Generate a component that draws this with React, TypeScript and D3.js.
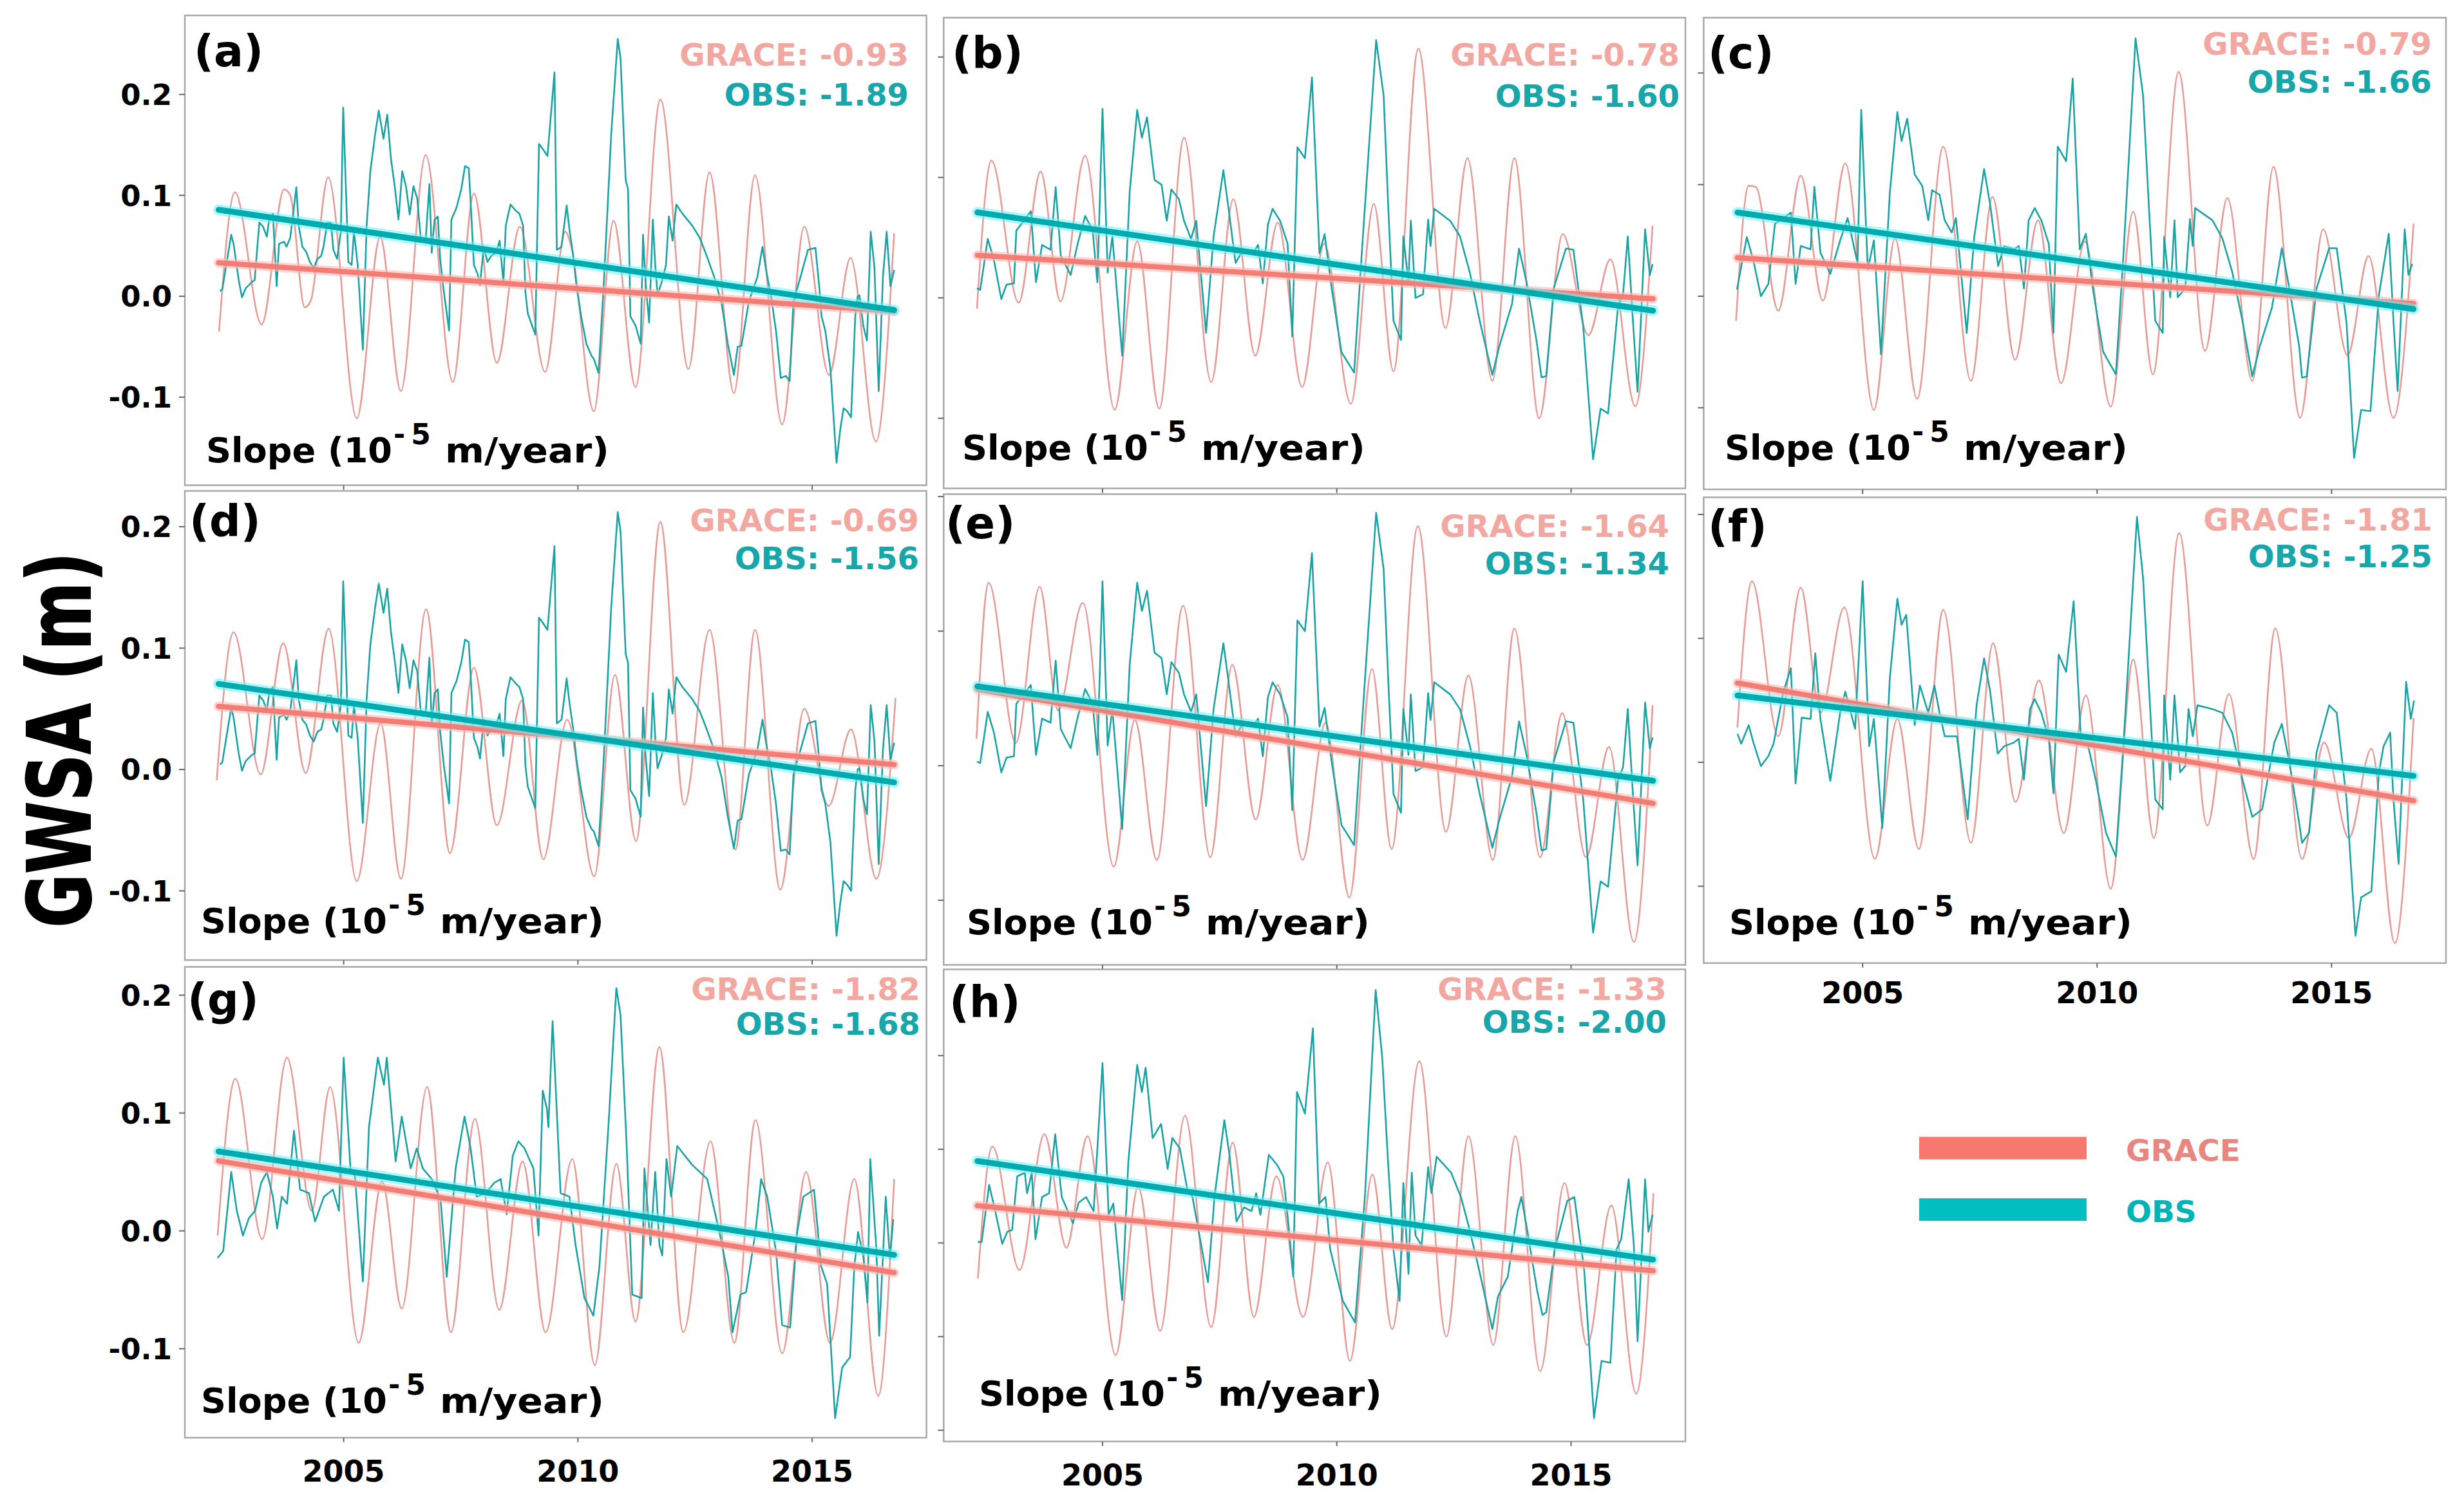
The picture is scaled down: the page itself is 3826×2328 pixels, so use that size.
import React from 'react';
import * as d3 from 'd3';

type P = [number, number];

// ---------------- DATA ----------------
const PANEL_NAMES = ['(a)', '(b)', '(c)', '(d)', '(e)', '(f)', '(g)', '(h)'];
const GRACE_SLOPES = ['-0.93', '-0.78', '-0.79', '-0.69', '-1.64', '-1.81', '-1.82', '-1.33'];
const OBS_SLOPES = ['-1.89', '-1.60', '-1.66', '-1.56', '-1.34', '-1.25', '-1.68', '-2.00'];
const X_TICKS = [2005, 2010, 2015];
const Y_TICKS_STD = [-0.1, 0, 0.1, 0.2];
const Y_TICKS_H = [-0.2, -0.1, 0, 0.1, 0.2];
const LEGEND_ITEMS = ['GRACE', 'OBS'];
const TREND_SPAN = [2002.33, 2016.75];

const TREND_GRACE: P[] = [
  [0.0333, -0.015], [0.0354, -0.0008], [0.0345, -0.0066], [0.052, 0.004],
  [0.0567, -0.028], [0.064, -0.031], [0.0594, -0.0355], [0.0398, -0.0297],
];
const TREND_OBS: P[] = [
  [0.0857, -0.0137], [0.071, -0.0106], [0.075, -0.0115], [0.0705, -0.0106],
  [0.059, -0.0112], [0.054, -0.011], [0.0674, -0.0204], [0.0874, -0.0178],
];

const GRACE_A: P[] = [[2002.34,-0.035],[2002.68,0.103],[2003.25,-0.028],[2003.73,0.106],[2003.86,0.1],[2004.17,-0.011],[2004.3,-0.004],[2004.67,0.118],[2005.28,-0.121],[2005.78,0.059],[2006.22,-0.094],[2006.75,0.14],[2007.33,-0.085],[2007.78,0.102],[2008.27,-0.066],[2008.76,0.069],[2009.3,-0.075],[2009.73,0.064],[2009.86,0.049],[2010.34,-0.114],[2010.76,0.075],[2011.23,-0.09],[2011.76,0.195],[2012.36,-0.072],[2012.81,0.123],[2013.33,-0.096],[2013.78,0.12],[2014.36,-0.127],[2014.83,0.069],[2015.36,-0.078],[2015.82,0.038],[2016.36,-0.144],[2016.75,0.0625]];
const GRACE_B: P[] = [[2002.32,-0.009],[2002.63,0.114],[2003.21,-0.004],[2003.68,0.105],[2004.1,-0.003],[2004.63,0.118],[2005.26,-0.093],[2005.74,0.047],[2006.21,-0.092],[2006.74,0.133],[2007.32,-0.07],[2007.79,0.082],[2008.26,-0.048],[2008.74,0.0625],[2009.26,-0.074],[2009.73,0.045],[2010.3,-0.088],[2010.79,0.078],[2011.21,-0.061],[2011.74,0.207],[2012.32,-0.025],[2012.79,0.116],[2013.32,-0.069],[2013.79,0.116],[2014.32,-0.1],[2014.82,0.053],[2015.37,-0.031],[2015.84,0.032],[2016.37,-0.09],[2016.74,0.06]];
const GRACE_C: P[] = [[2002.3,-0.022],[2002.57,0.099],[2002.72,0.098],[2003.2,-0.013],[2003.68,0.108],[2004.15,-0.004],[2004.63,0.119],[2005.24,-0.102],[2005.69,0.052],[2006.16,-0.092],[2006.72,0.134],[2007.31,-0.076],[2007.77,0.089],[2008.25,-0.057],[2008.74,0.068],[2009.23,-0.078],[2009.74,0.049],[2010.29,-0.099],[2010.77,0.076],[2011.19,-0.07],[2011.74,0.201],[2012.3,-0.049],[2012.78,0.088],[2013.31,-0.076],[2013.76,0.116],[2014.33,-0.109],[2014.82,0.06],[2015.34,-0.053],[2015.79,0.036],[2016.32,-0.109],[2016.75,0.065]];
const GRACE_D: P[] = [[2002.29,-0.009],[2002.65,0.113],[2003.23,-0.004],[2003.71,0.104],[2004.19,-0.003],[2004.68,0.116],[2005.28,-0.092],[2005.79,0.038],[2006.22,-0.09],[2006.76,0.132],[2007.27,-0.069],[2007.78,0.084],[2008.27,-0.046],[2008.81,0.057],[2009.26,-0.074],[2009.77,0.041],[2010.35,-0.088],[2010.79,0.078],[2011.24,-0.059],[2011.76,0.204],[2012.27,-0.029],[2012.81,0.115],[2013.36,-0.066],[2013.78,0.115],[2014.32,-0.099],[2014.83,0.05],[2015.35,-0.03],[2015.83,0.033],[2016.37,-0.09],[2016.78,0.059]];
const GRACE_E: P[] = [[2002.31,0.02],[2002.57,0.136],[2003.15,0.017],[2003.66,0.133],[2004.05,0.041],[2004.58,0.121],[2005.24,-0.075],[2005.69,0.034],[2006.16,-0.07],[2006.72,0.119],[2007.3,-0.068],[2007.77,0.075],[2008.27,-0.04],[2008.74,0.06],[2009.27,-0.07],[2009.76,0.032],[2010.27,-0.098],[2010.75,0.072],[2011.17,-0.062],[2011.73,0.178],[2012.33,-0.049],[2012.81,0.067],[2013.33,-0.07],[2013.79,0.102],[2014.34,-0.068],[2014.81,0.039],[2015.32,-0.068],[2015.81,0.014],[2016.34,-0.131],[2016.74,0.045]];
const GRACE_F: P[] = [[2002.33,0.028],[2002.64,0.146],[2003.2,0.021],[2003.68,0.141],[2004.1,0.04],[2004.61,0.125],[2005.26,-0.078],[2005.74,0.035],[2006.2,-0.07],[2006.72,0.123],[2007.31,-0.065],[2007.78,0.096],[2008.26,-0.032],[2008.76,0.066],[2009.29,-0.057],[2009.76,0.054],[2010.29,-0.102],[2010.77,0.083],[2011.21,-0.061],[2011.75,0.185],[2012.35,-0.051],[2012.81,0.055],[2013.34,-0.078],[2013.8,0.108],[2014.37,-0.078],[2014.84,0.016],[2015.37,-0.061],[2015.85,0.011],[2016.35,-0.146],[2016.75,0.036]];
const GRACE_G: P[] = [[2002.31,-0.004],[2002.69,0.129],[2003.26,-0.007],[2003.79,0.147],[2004.32,0.017],[2004.71,0.122],[2005.32,-0.095],[2005.82,0.042],[2006.24,-0.066],[2006.78,0.122],[2007.29,-0.086],[2007.8,0.095],[2008.32,-0.067],[2008.82,0.059],[2009.31,-0.086],[2009.88,0.061],[2010.36,-0.114],[2010.82,0.057],[2011.23,-0.077],[2011.74,0.156],[2012.25,-0.086],[2012.83,0.076],[2013.34,-0.095],[2013.79,0.094],[2014.36,-0.104],[2014.87,0.05],[2015.38,-0.095],[2015.9,0.044],[2016.41,-0.14],[2016.75,0.044]];
const GRACE_H: P[] = [[2002.34,-0.038],[2002.65,0.103],[2003.23,-0.029],[2003.76,0.116],[2004.23,-0.005],[2004.68,0.114],[2005.28,-0.12],[2005.76,0.06],[2006.23,-0.094],[2006.76,0.136],[2007.32,-0.09],[2007.78,0.107],[2008.23,-0.079],[2008.71,0.071],[2009.28,-0.079],[2009.81,0.086],[2010.28,-0.126],[2010.76,0.073],[2011.18,-0.092],[2011.76,0.194],[2012.34,-0.1],[2012.81,0.114],[2013.34,-0.109],[2013.81,0.114],[2014.34,-0.137],[2014.86,0.064],[2015.34,-0.109],[2015.86,0.04],[2016.39,-0.161],[2016.76,0.053]];

const OBS_A: P[] = [[2002.36,0.005],[2002.41,0.007],[2002.6,0.061],[2002.65,0.052],[2002.76,0.016],[2002.83,-0.001],[2002.91,0.008],[2003.04,0.014],[2003.1,0.016],[2003.2,0.073],[2003.28,0.069],[2003.36,0.059],[2003.41,0.076],[2003.49,0.082],[2003.57,0.01],[2003.62,0.052],[2003.73,0.054],[2003.78,0.049],[2003.86,0.058],[2003.99,0.108],[2004.04,0.07],[2004.12,0.049],[2004.2,0.044],[2004.28,0.034],[2004.36,0.028],[2004.44,0.037],[2004.52,0.04],[2004.57,0.049],[2004.65,0.073],[2004.73,0.073],[2004.78,0.046],[2004.86,0.037],[2004.94,0.064],[2004.99,0.187],[2005.1,0.034],[2005.17,0.031],[2005.22,0.064],[2005.3,0.031],[2005.41,-0.053],[2005.49,0.07],[2005.57,0.124],[2005.67,0.16],[2005.75,0.184],[2005.85,0.156],[2005.93,0.18],[2006.01,0.136],[2006.09,0.109],[2006.17,0.076],[2006.25,0.124],[2006.33,0.109],[2006.41,0.081],[2006.49,0.109],[2006.57,0.097],[2006.65,0.055],[2006.75,0.055],[2006.83,0.111],[2006.88,0.043],[2006.94,0.076],[2007.01,0.079],[2007.06,0.037],[2007.14,0.004],[2007.25,-0.034],[2007.3,0.076],[2007.41,0.088],[2007.51,0.106],[2007.59,0.129],[2007.67,0.127],[2007.72,0.085],[2007.78,0.031],[2007.86,0.022],[2007.91,0.011],[2007.99,0.049],[2008.07,0.034],[2008.15,0.04],[2008.25,0.043],[2008.33,0.055],[2008.41,0.013],[2008.46,0.07],[2008.56,0.091],[2008.67,0.085],[2008.75,0.082],[2008.83,0.07],[2008.88,0.004],[2008.93,-0.017],[2009.09,-0.038],[2009.17,0.151],[2009.25,0.146],[2009.35,0.139],[2009.5,0.222],[2009.55,0.046],[2009.65,0.049],[2009.76,0.09],[2009.82,0.066],[2009.9,0.04],[2009.97,0.01],[2010.07,-0.02],[2010.18,-0.047],[2010.29,-0.059],[2010.34,-0.062],[2010.44,-0.076],[2010.55,0.01],[2010.71,0.16],[2010.85,0.255],[2010.91,0.236],[2011.02,0.115],[2011.07,0.106],[2011.12,-0.02],[2011.23,-0.029],[2011.34,-0.047],[2011.39,0.061],[2011.44,0.016],[2011.52,-0.026],[2011.6,0.076],[2011.65,0.031],[2011.7,0.001],[2011.8,0.016],[2011.88,0.031],[2011.94,0.079],[2012.02,0.055],[2012.1,0.091],[2012.23,0.082],[2012.44,0.07],[2012.6,0.058],[2012.75,0.04],[2012.91,0.019],[2013.07,-0.008],[2013.2,-0.047],[2013.33,-0.078],[2013.41,-0.05],[2013.49,-0.049],[2013.65,-0.005],[2013.83,0.019],[2013.94,0.049],[2014.02,0.025],[2014.12,0.001],[2014.23,-0.035],[2014.33,-0.081],[2014.44,-0.079],[2014.52,-0.084],[2014.6,-0.005],[2014.75,0.019],[2014.91,0.046],[2015.07,0.048],[2015.15,0.01],[2015.2,-0.02],[2015.28,-0.034],[2015.39,-0.072],[2015.52,-0.165],[2015.6,-0.132],[2015.67,-0.111],[2015.75,-0.114],[2015.83,-0.12],[2015.92,-0.02],[2015.97,0.0],[2016.01,0.001],[2016.09,-0.029],[2016.17,-0.044],[2016.25,0.064],[2016.33,0.028],[2016.42,-0.094],[2016.51,0.019],[2016.59,0.064],[2016.67,0.01],[2016.75,0.026]];
const OBS_B: P[] = [[2002.32,0.008],[2002.39,0.0066],[2002.55,0.049],[2002.68,0.032],[2002.84,-0.001],[2002.95,0.011],[2003.11,0.012],[2003.16,0.056],[2003.32,0.064],[2003.47,0.072],[2003.58,0.013],[2003.71,0.044],[2003.89,0.04],[2004.0,0.092],[2004.11,0.035],[2004.32,0.019],[2004.47,0.045],[2004.63,0.068],[2004.79,0.056],[2004.89,0.013],[2005.0,0.157],[2005.11,0.021],[2005.21,0.051],[2005.42,-0.048],[2005.58,0.088],[2005.74,0.156],[2005.84,0.133],[2005.95,0.15],[2006.11,0.098],[2006.26,0.094],[2006.37,0.064],[2006.47,0.09],[2006.63,0.082],[2006.74,0.064],[2006.89,0.049],[2007.0,0.064],[2007.21,-0.029],[2007.37,0.051],[2007.58,0.106],[2007.68,0.077],[2007.84,0.029],[2008.0,0.04],[2008.21,0.037],[2008.32,0.044],[2008.42,0.012],[2008.53,0.061],[2008.63,0.074],[2008.79,0.064],[2008.95,0.045],[2009.05,-0.032],[2009.16,0.125],[2009.32,0.116],[2009.47,0.183],[2009.63,0.037],[2009.74,0.053],[2009.89,0.008],[2010.1,-0.045],[2010.37,-0.062],[2010.53,0.035],[2010.84,0.214],[2011.0,0.168],[2011.1,0.074],[2011.21,-0.019],[2011.37,-0.035],[2011.42,0.051],[2011.53,0.013],[2011.58,0.064],[2011.68,0.0],[2011.84,0.003],[2011.95,0.065],[2012.0,0.043],[2012.08,0.074],[2012.42,0.064],[2012.63,0.051],[2012.84,0.021],[2013.05,-0.019],[2013.32,-0.064],[2013.47,-0.04],[2013.74,-0.005],[2013.89,0.041],[2014.05,0.013],[2014.26,-0.035],[2014.37,-0.066],[2014.47,-0.065],[2014.63,0.008],[2014.89,0.041],[2015.05,0.04],[2015.26,-0.024],[2015.47,-0.134],[2015.63,-0.092],[2015.79,-0.096],[2016.0,-0.008],[2016.11,0.003],[2016.21,0.051],[2016.32,-0.019],[2016.42,-0.078],[2016.58,0.057],[2016.68,0.019],[2016.74,0.028]];
const OBS_C: P[] = [[2002.32,0.006],[2002.53,0.053],[2002.67,0.032],[2002.83,0.0],[2002.99,0.011],[2003.13,0.065],[2003.31,0.07],[2003.47,0.075],[2003.57,0.011],[2003.68,0.045],[2003.89,0.042],[2003.97,0.098],[2004.1,0.039],[2004.31,0.02],[2004.52,0.05],[2004.68,0.07],[2004.89,0.03],[2004.97,0.167],[2005.11,0.024],[2005.24,0.05],[2005.39,-0.052],[2005.58,0.093],[2005.74,0.165],[2005.83,0.139],[2005.95,0.159],[2006.11,0.109],[2006.27,0.099],[2006.4,0.068],[2006.48,0.095],[2006.64,0.091],[2006.75,0.068],[2006.9,0.057],[2006.99,0.07],[2007.22,-0.033],[2007.38,0.053],[2007.59,0.114],[2007.72,0.082],[2007.89,0.027],[2008.02,0.045],[2008.23,0.042],[2008.33,0.045],[2008.44,0.007],[2008.54,0.068],[2008.67,0.079],[2008.81,0.068],[2008.97,0.047],[2009.07,-0.033],[2009.16,0.134],[2009.34,0.121],[2009.48,0.195],[2009.63,0.042],[2009.76,0.056],[2009.92,0.004],[2010.13,-0.05],[2010.4,-0.07],[2010.56,0.036],[2010.82,0.231],[2010.98,0.18],[2011.11,0.076],[2011.24,-0.022],[2011.4,-0.033],[2011.43,0.053],[2011.56,-0.001],[2011.65,0.068],[2011.72,-0.001],[2011.88,0.007],[2011.98,0.069],[2012.04,0.045],[2012.09,0.079],[2012.46,0.068],[2012.67,0.052],[2012.88,0.022],[2013.1,-0.022],[2013.31,-0.072],[2013.47,-0.045],[2013.73,-0.01],[2013.94,0.043],[2014.1,0.007],[2014.31,-0.045],[2014.37,-0.073],[2014.47,-0.072],[2014.68,0.007],[2014.95,0.043],[2015.11,0.043],[2015.32,-0.024],[2015.48,-0.145],[2015.63,-0.102],[2015.83,-0.103],[2016.01,0.001],[2016.22,0.056],[2016.32,-0.022],[2016.41,-0.085],[2016.56,0.06],[2016.64,0.019],[2016.72,0.029]];
const OBS_D: P[] = [[2002.36,0.004],[2002.41,0.006],[2002.6,0.051],[2002.65,0.043],[2002.76,0.013],[2002.83,-0.001],[2002.91,0.007],[2003.04,0.012],[2003.1,0.013],[2003.2,0.061],[2003.28,0.057],[2003.36,0.049],[2003.41,0.063],[2003.49,0.068],[2003.57,0.008],[2003.62,0.043],[2003.73,0.045],[2003.78,0.041],[2003.86,0.048],[2003.99,0.09],[2004.04,0.058],[2004.12,0.041],[2004.2,0.037],[2004.28,0.028],[2004.36,0.023],[2004.44,0.031],[2004.52,0.033],[2004.57,0.041],[2004.65,0.061],[2004.73,0.061],[2004.78,0.038],[2004.86,0.031],[2004.94,0.053],[2004.99,0.155],[2005.1,0.028],[2005.17,0.026],[2005.22,0.053],[2005.3,0.026],[2005.41,-0.044],[2005.49,0.058],[2005.57,0.103],[2005.67,0.133],[2005.75,0.153],[2005.85,0.129],[2005.93,0.149],[2006.01,0.113],[2006.09,0.09],[2006.17,0.063],[2006.25,0.103],[2006.33,0.09],[2006.41,0.067],[2006.49,0.09],[2006.57,0.081],[2006.65,0.046],[2006.75,0.046],[2006.83,0.092],[2006.88,0.036],[2006.94,0.063],[2007.01,0.066],[2007.06,0.031],[2007.14,0.003],[2007.25,-0.028],[2007.3,0.063],[2007.41,0.073],[2007.51,0.088],[2007.59,0.107],[2007.67,0.105],[2007.72,0.071],[2007.78,0.026],[2007.86,0.018],[2007.91,0.009],[2007.99,0.041],[2008.07,0.028],[2008.15,0.033],[2008.25,0.036],[2008.33,0.046],[2008.41,0.011],[2008.46,0.058],[2008.56,0.076],[2008.67,0.071],[2008.75,0.068],[2008.83,0.058],[2008.88,0.003],[2008.93,-0.014],[2009.09,-0.032],[2009.17,0.125],[2009.25,0.121],[2009.35,0.115],[2009.5,0.184],[2009.55,0.038],[2009.65,0.041],[2009.76,0.075],[2009.82,0.055],[2009.9,0.033],[2009.97,0.008],[2010.07,-0.017],[2010.18,-0.039],[2010.29,-0.049],[2010.34,-0.051],[2010.44,-0.063],[2010.55,0.008],[2010.71,0.133],[2010.85,0.212],[2010.91,0.196],[2011.02,0.095],[2011.07,0.088],[2011.12,-0.017],[2011.23,-0.024],[2011.34,-0.039],[2011.39,0.051],[2011.44,0.013],[2011.52,-0.022],[2011.6,0.063],[2011.65,0.026],[2011.7,0.001],[2011.8,0.013],[2011.88,0.026],[2011.94,0.066],[2012.02,0.046],[2012.1,0.076],[2012.23,0.068],[2012.44,0.058],[2012.6,0.048],[2012.75,0.033],[2012.91,0.016],[2013.07,-0.007],[2013.2,-0.039],[2013.33,-0.065],[2013.41,-0.042],[2013.49,-0.041],[2013.65,-0.004],[2013.83,0.016],[2013.94,0.041],[2014.02,0.021],[2014.12,0.001],[2014.23,-0.029],[2014.33,-0.067],[2014.44,-0.066],[2014.52,-0.07],[2014.6,-0.004],[2014.75,0.016],[2014.91,0.038],[2015.07,0.04],[2015.15,0.008],[2015.2,-0.017],[2015.28,-0.028],[2015.39,-0.06],[2015.52,-0.137],[2015.6,-0.11],[2015.67,-0.092],[2015.75,-0.095],[2015.83,-0.1],[2015.92,-0.017],[2015.97,0.0],[2016.01,0.001],[2016.09,-0.024],[2016.17,-0.037],[2016.25,0.053],[2016.33,0.023],[2016.42,-0.078],[2016.51,0.016],[2016.59,0.053],[2016.67,0.008],[2016.75,0.022]];
const OBS_E: P[] = [[2002.32,0.003],[2002.39,0.002],[2002.55,0.04],[2002.68,0.025],[2002.84,-0.005],[2002.95,0.006],[2003.11,0.007],[2003.16,0.046],[2003.32,0.053],[2003.47,0.06],[2003.58,0.008],[2003.71,0.035],[2003.89,0.032],[2004.0,0.078],[2004.11,0.027],[2004.32,0.013],[2004.47,0.036],[2004.63,0.057],[2004.79,0.046],[2004.89,0.008],[2005.0,0.137],[2005.11,0.015],[2005.21,0.042],[2005.42,-0.047],[2005.58,0.075],[2005.74,0.136],[2005.84,0.115],[2005.95,0.13],[2006.11,0.084],[2006.26,0.08],[2006.37,0.053],[2006.47,0.077],[2006.63,0.069],[2006.74,0.053],[2006.89,0.04],[2007.0,0.053],[2007.21,-0.03],[2007.37,0.042],[2007.58,0.091],[2007.68,0.065],[2007.84,0.022],[2008.0,0.032],[2008.21,0.029],[2008.32,0.035],[2008.42,0.007],[2008.53,0.051],[2008.63,0.062],[2008.79,0.053],[2008.95,0.036],[2009.05,-0.033],[2009.16,0.108],[2009.32,0.1],[2009.47,0.158],[2009.63,0.029],[2009.74,0.043],[2009.89,0.003],[2010.1,-0.044],[2010.37,-0.059],[2010.53,0.027],[2010.84,0.188],[2011.0,0.146],[2011.1,0.062],[2011.21,-0.021],[2011.37,-0.035],[2011.42,0.042],[2011.53,0.008],[2011.58,0.053],[2011.68,-0.004],[2011.84,-0.001],[2011.95,0.054],[2012.0,0.034],[2012.08,0.062],[2012.42,0.053],[2012.63,0.042],[2012.84,0.015],[2013.05,-0.021],[2013.32,-0.061],[2013.47,-0.04],[2013.74,-0.008],[2013.89,0.033],[2014.05,0.008],[2014.26,-0.035],[2014.37,-0.063],[2014.47,-0.062],[2014.63,0.003],[2014.89,0.033],[2015.05,0.032],[2015.26,-0.025],[2015.47,-0.124],[2015.63,-0.086],[2015.79,-0.09],[2016.0,-0.011],[2016.11,-0.001],[2016.21,0.042],[2016.32,-0.021],[2016.42,-0.074],[2016.58,0.047],[2016.68,0.013],[2016.74,0.021]];
const OBS_F: P[] = [[2002.33,0.023],[2002.41,0.015],[2002.57,0.03],[2002.67,0.016],[2002.83,-0.003],[2002.99,0.005],[2003.1,0.015],[2003.31,0.057],[2003.47,0.076],[2003.57,-0.017],[2003.7,0.036],[2003.89,0.035],[2003.99,0.088],[2004.1,0.035],[2004.31,-0.015],[2004.52,0.04],[2004.63,0.057],[2004.84,0.027],[2005.0,0.146],[2005.14,0.013],[2005.24,0.035],[2005.42,-0.053],[2005.58,0.068],[2005.74,0.132],[2005.83,0.111],[2005.93,0.119],[2006.11,0.03],[2006.22,0.062],[2006.4,0.04],[2006.53,0.062],[2006.64,0.04],[2006.75,0.021],[2007.01,0.021],[2007.24,-0.046],[2007.43,0.046],[2007.59,0.084],[2007.72,0.057],[2007.88,0.007],[2008.02,0.013],[2008.23,0.016],[2008.33,0.019],[2008.44,-0.014],[2008.57,0.043],[2008.67,0.051],[2008.81,0.04],[2008.97,0.019],[2009.07,-0.025],[2009.18,0.087],[2009.34,0.073],[2009.5,0.13],[2009.66,0.016],[2009.81,0.013],[2009.97,-0.014],[2010.19,-0.057],[2010.4,-0.076],[2010.56,0.013],[2010.85,0.198],[2010.98,0.149],[2011.12,0.051],[2011.24,-0.03],[2011.4,-0.038],[2011.43,0.054],[2011.56,-0.014],[2011.65,0.054],[2011.77,-0.008],[2011.88,-0.003],[2011.95,0.043],[2012.04,0.021],[2012.14,0.046],[2012.46,0.043],[2012.67,0.04],[2012.88,0.024],[2013.1,-0.014],[2013.31,-0.044],[2013.52,-0.038],[2013.78,0.016],[2013.94,0.031],[2014.1,0.0],[2014.31,-0.049],[2014.37,-0.065],[2014.52,-0.057],[2014.68,0.008],[2014.95,0.046],[2015.11,0.04],[2015.32,-0.03],[2015.51,-0.14],[2015.63,-0.109],[2015.85,-0.104],[2016.01,-0.008],[2016.11,0.013],[2016.25,0.024],[2016.32,-0.03],[2016.43,-0.082],[2016.59,0.065],[2016.69,0.035],[2016.76,0.05]];
const OBS_G: P[] = [[2002.31,-0.023],[2002.43,-0.017],[2002.6,0.05],[2002.72,0.017],[2002.85,-0.004],[2002.98,0.011],[2003.11,0.017],[2003.24,0.041],[2003.36,0.05],[2003.49,0.029],[2003.58,0.002],[2003.68,0.029],[2003.79,0.023],[2003.94,0.085],[2004.07,0.035],[2004.26,0.032],[2004.39,0.008],[2004.58,0.029],[2004.77,0.035],[2004.9,0.017],[2005.0,0.147],[2005.15,0.05],[2005.24,0.047],[2005.41,-0.043],[2005.54,0.088],[2005.73,0.147],[2005.86,0.124],[2005.92,0.147],[2006.11,0.059],[2006.24,0.097],[2006.43,0.053],[2006.56,0.07],[2006.69,0.053],[2006.88,0.044],[2007.07,0.026],[2007.2,-0.039],[2007.39,0.053],[2007.58,0.097],[2007.71,0.07],[2007.84,0.029],[2008.03,0.032],[2008.22,0.041],[2008.35,0.044],[2008.48,0.014],[2008.61,0.064],[2008.73,0.076],[2008.86,0.07],[2009.05,0.053],[2009.16,-0.004],[2009.25,0.119],[2009.34,0.103],[2009.37,0.088],[2009.46,0.178],[2009.63,0.032],[2009.82,0.029],[2009.95,-0.012],[2010.14,-0.057],[2010.33,-0.072],[2010.46,-0.03],[2010.65,0.088],[2010.82,0.206],[2010.91,0.183],[2011.04,0.073],[2011.16,-0.054],[2011.36,-0.057],[2011.42,0.053],[2011.55,-0.012],[2011.65,0.05],[2011.74,-0.012],[2011.8,-0.021],[2011.89,0.061],[2011.99,0.029],[2012.12,0.072],[2012.44,0.056],[2012.76,0.044],[2013.02,-0.001],[2013.21,-0.039],[2013.3,-0.086],[2013.47,-0.054],[2013.59,-0.052],[2013.79,-0.001],[2013.91,0.044],[2014.04,0.029],[2014.23,-0.018],[2014.36,-0.08],[2014.53,-0.082],[2014.68,-0.001],[2014.81,0.029],[2015.04,0.035],[2015.19,-0.03],[2015.32,-0.045],[2015.49,-0.159],[2015.64,-0.116],[2015.81,-0.107],[2015.9,-0.03],[2015.98,-0.001],[2016.09,-0.021],[2016.18,-0.061],[2016.24,0.061],[2016.37,-0.015],[2016.43,-0.089],[2016.57,0.029],[2016.66,-0.024],[2016.73,0.01]];
const OBS_H: P[] = [[2002.34,0.001],[2002.42,0.001],[2002.58,0.062],[2002.71,0.034],[2002.86,-0.001],[2002.97,0.012],[2003.07,0.014],[2003.18,0.071],[2003.34,0.075],[2003.39,0.053],[2003.49,0.075],[2003.57,0.004],[2003.71,0.049],[2003.86,0.053],[2003.99,0.116],[2004.13,0.049],[2004.37,0.021],[2004.49,0.043],[2004.65,0.049],[2004.81,0.034],[2005.0,0.192],[2005.13,0.03],[2005.23,0.042],[2005.42,-0.061],[2005.55,0.086],[2005.74,0.19],[2005.84,0.161],[2005.92,0.187],[2006.07,0.112],[2006.25,0.127],[2006.39,0.079],[2006.49,0.112],[2006.65,0.101],[2006.81,0.057],[2006.92,0.049],[2007.25,-0.042],[2007.39,0.049],[2007.6,0.131],[2007.71,0.094],[2007.86,0.023],[2008.02,0.038],[2008.18,0.034],[2008.28,0.053],[2008.37,0.03],[2008.55,0.094],[2008.73,0.083],[2008.86,0.071],[2008.97,0.019],[2009.07,-0.036],[2009.15,0.161],[2009.32,0.138],[2009.49,0.229],[2009.62,0.042],[2009.76,0.049],[2009.86,-0.007],[2010.13,-0.062],[2010.39,-0.085],[2010.6,0.049],[2010.83,0.27],[2010.97,0.198],[2011.09,0.09],[2011.21,-0.007],[2011.34,-0.062],[2011.42,0.064],[2011.53,-0.033],[2011.6,0.075],[2011.68,0.008],[2011.81,-0.003],[2011.95,0.081],[2012.02,0.053],[2012.13,0.092],[2012.44,0.075],[2012.65,0.049],[2012.81,0.019],[2013.02,-0.025],[2013.32,-0.092],[2013.44,-0.057],[2013.65,-0.036],[2013.86,0.034],[2013.94,0.049],[2014.07,0.012],[2014.28,-0.052],[2014.39,-0.077],[2014.47,-0.074],[2014.65,-0.007],[2014.92,0.045],[2015.07,0.049],[2015.28,-0.029],[2015.49,-0.187],[2015.65,-0.126],[2015.84,-0.128],[2015.97,-0.007],[2016.07,0.004],[2016.23,0.068],[2016.34,-0.003],[2016.42,-0.105],[2016.58,0.068],[2016.65,0.012],[2016.74,0.03]];

const GRACE_ALL = [GRACE_A, GRACE_B, GRACE_C, GRACE_D, GRACE_E, GRACE_F, GRACE_G, GRACE_H];
const OBS_ALL = [OBS_A, OBS_B, OBS_C, OBS_D, OBS_E, OBS_F, OBS_G, OBS_H];

// ---------------- LAYOUT ----------------
const W = 3826;
const H = 2328;
const X_DOMAIN = [2001.61, 2017.44];
const COLS = [[287, 1438.6], [1465.3, 2617], [2645.4, 3798]];
const PANELS = [
  { col: 0, y0: 24, y1: 753.6, yMin: -0.1873, yMax: 0.2783, yl: true, xl: false, nx: 301, ny: 103, sx: 1411, sy1: 102, sy2: 164, px: 320, py: 718 },
  { col: 1, y0: 27.4, y1: 758.5, yMin: -0.1582, yMax: 0.2327, yl: false, xl: false, nx: 1478, ny: 106, sx: 2608, sy1: 102, sy2: 166, px: 1494, py: 714 },
  { col: 2, y0: 27.4, y1: 760, yMin: -0.1731, yMax: 0.2496, yl: false, xl: false, nx: 2652, ny: 106, sx: 3776, sy1: 85, sy2: 144, px: 2678, py: 714 },
  { col: 0, y0: 762.4, y1: 1491, yMin: -0.157, yMax: 0.2295, yl: true, xl: false, nx: 294, ny: 833, sx: 1427, sy1: 825, sy2: 884, px: 312, py: 1449 },
  { col: 1, y0: 767.4, y1: 1498.5, yMin: -0.148, yMax: 0.2018, yl: false, xl: false, nx: 1468, ny: 836, sx: 2592, sy1: 834, sy2: 892, px: 1501, py: 1451 },
  { col: 2, y0: 772.4, y1: 1495.7, yMin: -0.162, yMax: 0.2138, yl: false, xl: true, nx: 2652, ny: 841, sx: 3777, sy1: 824, sy2: 881, px: 2685, py: 1451 },
  { col: 0, y0: 1501.6, y1: 2232.8, yMin: -0.1755, yMax: 0.224, yl: true, xl: true, nx: 291, ny: 1576, sx: 1429, sy1: 1553, sy2: 1607, px: 312, py: 2194 },
  { col: 1, y0: 1505.5, y1: 2238.7, yMin: -0.212, yMax: 0.292, yl: false, xl: true, nx: 1474, ny: 1580, sx: 2588, sy1: 1553, sy2: 1604, px: 1520, py: 2183 },
];

const FONT = '"DejaVu Sans", Verdana, sans-serif';
const C_GRACE_LINE = '#E69C97';
const C_OBS_LINE = '#1AA3A4';
const C_GRACE_TREND = '#F37D75';
const C_GRACE_HALO = '#FFB9B3';
const C_OBS_TREND = '#00ABAF';
const C_OBS_HALO = '#6CF3F6';
const C_GRACE_TEXT = '#F2A7A1';
const C_OBS_TEXT = '#17A6A9';

const fmtTick = (t: number) => d3.format('.1f')(t).replace('\u2212', '-');

function Panel({ i }: { i: number }) {
  const p = PANELS[i];
  const [x0, x1] = COLS[p.col];
  const x = d3.scaleLinear().domain(X_DOMAIN).range([x0, x1]);
  const y = d3.scaleLinear().domain([p.yMin, p.yMax]).range([p.y1, p.y0]);
  const graceLine = d3.line<P>().x((d) => x(d[0])).y((d) => y(d[1])).curve(d3.curveMonotoneX);
  const obsLine = d3.line<P>().x((d) => x(d[0])).y((d) => y(d[1])).curve(d3.curveLinear);
  const trendLine = d3.line<P>().x((d) => x(d[0])).y((d) => y(d[1]));
  const tg: P[] = [[TREND_SPAN[0], TREND_GRACE[i][0]], [TREND_SPAN[1], TREND_GRACE[i][1]]];
  const to: P[] = [[TREND_SPAN[0], TREND_OBS[i][0]], [TREND_SPAN[1], TREND_OBS[i][1]]];
  const yTicks = i === 7 ? Y_TICKS_H : Y_TICKS_STD;
  const clipId = `clip-${i}`;
  return (
    <g>
      <defs>
        <clipPath id={clipId}>
          <rect x={x0} y={p.y0} width={x1 - x0} height={p.y1 - p.y0} />
        </clipPath>
      </defs>
      <rect x={x0} y={p.y0} width={x1 - x0} height={p.y1 - p.y0} fill="#fff" stroke="#A8A8A8" strokeWidth={2.5} />
      {yTicks.map((t) => (
        <g key={`yt${t}`}>
          <line x1={x0 - 9} x2={x0} y1={y(t)} y2={y(t)} stroke="#666" strokeWidth={2} />
          {p.yl && (
            <text x={x0 - 20} y={y(t)} dy="0.36em" textAnchor="end" fontFamily={FONT} fontWeight={700} fontSize={45} fill="#000">
              {fmtTick(t)}
            </text>
          )}
        </g>
      ))}
      {X_TICKS.map((t) => (
        <g key={`xt${t}`}>
          <line x1={x(t)} x2={x(t)} y1={p.y1} y2={p.y1 + 7} stroke="#666" strokeWidth={2} />
          {p.xl && (
            <text x={x(t)} y={p.y1 + (i === 5 ? 62 : 68)} textAnchor="middle" fontFamily={FONT} fontWeight={700} fontSize={46} fill="#000">
              {t}
            </text>
          )}
        </g>
      ))}
      <g clipPath={`url(#${clipId})`}>
        <path d={graceLine(GRACE_ALL[i]) || ''} fill="none" stroke={C_GRACE_LINE} strokeWidth={2.6} strokeLinejoin="round" />
        <path d={obsLine(OBS_ALL[i]) || ''} fill="none" stroke={C_OBS_LINE} strokeWidth={2.6} strokeLinejoin="round" />
        <path d={trendLine(tg) || ''} fill="none" stroke={C_GRACE_HALO} strokeOpacity={0.6} strokeWidth={15} strokeLinecap="round" />
        <path d={trendLine(tg) || ''} fill="none" stroke={C_GRACE_TREND} strokeWidth={8} strokeLinecap="round" />
        <path d={trendLine(to) || ''} fill="none" stroke={C_OBS_HALO} strokeOpacity={0.55} strokeWidth={17} strokeLinecap="round" />
        <path d={trendLine(to) || ''} fill="none" stroke={C_OBS_TREND} strokeWidth={9} strokeLinecap="round" />
      </g>
      <text x={p.nx} y={p.ny} fontFamily={FONT} fontWeight={700} fontSize={68} fill="#000">
        {PANEL_NAMES[i]}
      </text>
      <text x={p.sx} y={p.sy1} textAnchor="end" fontFamily={FONT} fontWeight={700} fontSize={48} fill={C_GRACE_TEXT}>
        {`GRACE: ${GRACE_SLOPES[i]}`}
      </text>
      <text x={p.sx} y={p.sy2} textAnchor="end" fontFamily={FONT} fontWeight={700} fontSize={48} fill={C_OBS_TEXT}>
        {`OBS: ${OBS_SLOPES[i]}`}
      </text>
      <g fontFamily={FONT} fontWeight={700} fill="#000">
        <text x={p.px} y={p.py} fontSize={53} textLength={289} lengthAdjust="spacingAndGlyphs">Slope (10</text>
        <text x={p.px + 291} y={p.py - 28} fontSize={44}>
          -<tspan dx={9}>5</tspan>
        </text>
        <text x={p.px + 371} y={p.py} fontSize={54} textLength={255} lengthAdjust="spacingAndGlyphs">m/year)</text>
      </g>
    </g>
  );
}

export default function App() {
  const legendColors = [
    { bar: '#F8786F', text: '#E8867F', y: 1765.5 },
    { bar: '#00BEC2', text: '#00B3B7', y: 1861 },
  ];
  return (
    <svg
      width={W}
      height={H}
      viewBox={`0 0 ${W} ${H}`}
      xmlns="http://www.w3.org/2000/svg"
      style={{ position: 'absolute', left: 0, top: 0, display: 'block', background: '#fff' }}
    >
      <rect x={0} y={0} width={W} height={H} fill="#fff" />
      {PANELS.map((_, i) => (
        <Panel key={i} i={i} />
      ))}
      <text
        transform="translate(140,1149) rotate(-90) scale(1,1.32)"
        textAnchor="middle"
        fontFamily={FONT}
        fontWeight={700}
        fontSize={102}
        fill="#000"
        stroke="#000"
        strokeWidth={1.5}
      >
        GWSA (m)
      </text>
      {LEGEND_ITEMS.map((name, k) => (
        <g key={name}>
          <rect x={2980} y={legendColors[k].y} width={260} height={35} fill={legendColors[k].bar} />
          <text x={3301} y={legendColors[k].y + 37} fontFamily={FONT} fontWeight={700} fontSize={47} fill={legendColors[k].text}>
            {name}
          </text>
        </g>
      ))}
    </svg>
  );
}
